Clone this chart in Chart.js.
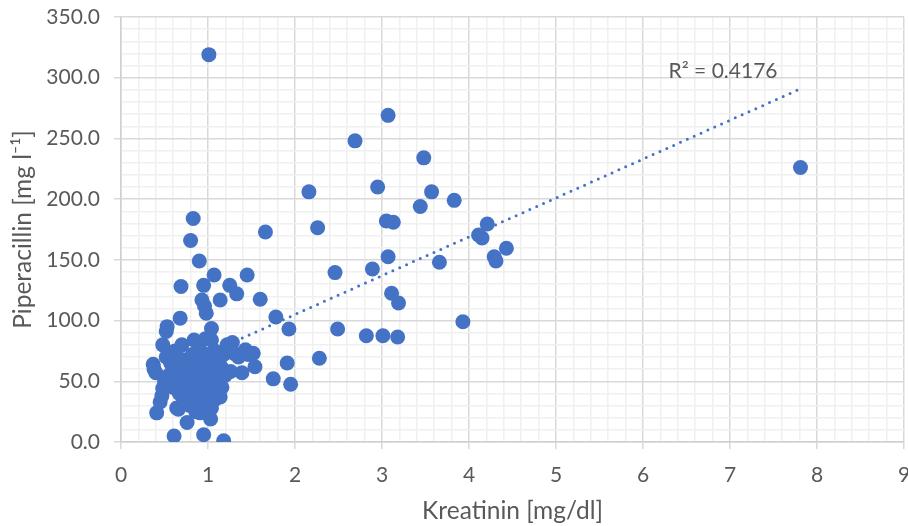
<!DOCTYPE html>
<html>
<head>
<meta charset="utf-8">
<script src="https://cdn.jsdelivr.net/npm/chart.js@4/dist/chart.umd.min.js"></script>
<style>
  html, body { margin: 0; padding: 0; background: #ffffff; }
  #wrap { width: 908px; height: 526px; }
</style>
</head>
<body>
<div id="wrap"><canvas id="chart" width="908" height="526"></canvas></div>
<script>
// Serum creatinine [mg/dl] per sample
const creatinine = [
  1.01, 7.81, 3.07, 2.69, 3.48, 2.95, 3.57, 2.16, 3.83, 3.44,
  0.83, 3.05, 3.13, 0.80, 1.66, 2.26, 0.90, 3.07, 3.66, 1.07,
  1.45, 2.46, 2.89, 4.21, 4.11, 4.15, 4.43, 4.29, 4.31, 1.60,
  3.11, 3.19, 1.78, 1.93, 2.49, 3.93, 2.82, 3.01, 3.18, 1.91,
  1.75, 1.95, 2.28,
  0.69, 0.95, 1.25, 1.33, 0.93, 0.96, 1.14, 0.98, 0.68, 0.52,
  0.53, 1.04,
  0.37, 0.38, 0.40, 0.41, 0.45, 0.47, 0.48, 0.48, 0.50, 0.52,
  0.55, 0.55, 0.57, 0.60, 0.60, 0.61, 0.62, 0.64, 0.65, 0.66,
  0.67, 0.70, 0.70, 0.72, 0.72, 0.75, 0.76, 0.77, 0.78, 0.79,
  0.80, 0.82, 0.83, 0.84, 0.85, 0.85, 0.86, 0.87, 0.88, 0.89,
  0.90, 0.91, 0.92, 0.93, 0.94, 0.95, 0.96, 0.97, 0.97, 0.98,
  1.00, 1.01, 1.03, 1.02, 1.04, 1.04, 1.05, 1.06, 1.08, 1.08,
  1.09, 1.10, 1.12, 1.14, 1.15, 1.16, 1.18, 1.18, 1.20, 1.22,
  1.24, 1.26, 1.28, 1.30, 1.35, 1.39, 1.43, 1.46, 1.52, 1.54
];

// Piperacillin concentration [mg l-1] for the same samples
const piperacillin = [
  319, 226, 269, 248, 234, 210, 206, 206, 199, 194,
  184, 182, 181, 166, 173, 176.5, 149, 152.5, 148, 137.5,
  137.5, 139.5, 142.5, 179.5, 170.5, 168, 159.5, 152.5, 149, 117.5,
  122.5, 114.5, 103, 93, 93, 99, 87.5, 87.5, 86.5, 65,
  52, 47.5, 69,
  128, 129, 129, 122, 117, 112, 117, 106, 102, 91,
  95, 93.5,
  64, 60, 57, 24, 33, 38, 44, 80, 50, 70,
  74, 55, 65, 45, 60, 5, 75, 28, 52, 27,
  40, 68, 80, 35, 58, 48, 16, 62, 43, 30,
  55, 72, 38, 84, 50, 65, 25, 45, 58, 35,
  78, 24, 52, 68, 42, 6, 30, 85, 60, 48,
  72, 40, 19, 55, 84, 28, 65, 47, 75, 35,
  58, 68, 50, 37, 62, 45, 1, 72, 55, 80,
  76, 58, 82, 73, 70, 57, 76, 72, 73, 62
];

// Linear trendline fitted through the samples
const trendSlope = 32.0;
const trendIntercept = 41.0;
const rSquaredLabel = 'R² = 0.4176';

// Axis ranges and tick spacing (major / minor)
const xRange = [0, 9];
const yRange = [0, 350];
const xMajor = 1, xMinor = 0.2;
const yMajor = 50, yMinor = 10;

const points = creatinine.map((x, i) => ({ x, y: piperacillin[i] }));
const xMin = Math.min(...creatinine);
const xMax = Math.max(...creatinine);
const trend = [xMin, xMax].map(x => ({ x, y: trendIntercept + trendSlope * x }));

const isMajor = (v, step) => Math.abs(v / step - Math.round(v / step)) < 1e-6;

const BLUE = '#4472C4';
const TEXT = '#595959';
const FONT = 'Lato, "Open Sans", sans-serif';

// Writes the coefficient of determination next to the trendline
const rLabelPlugin = {
  id: 'rLabel',
  afterDatasetsDraw(chart) {
    const { ctx, scales } = chart;
    const px = scales.x.getPixelForValue(6.92);
    const py = scales.y.getPixelForValue(305.5);
    ctx.save();
    ctx.font = '21px ' + FONT;
    ctx.fillStyle = TEXT;
    ctx.textAlign = 'center';
    ctx.textBaseline = 'middle';
    ctx.fillText(rSquaredLabel, px, py);
    ctx.restore();
  }
};

new Chart(document.getElementById('chart'), {
  type: 'scatter',
  data: {
    datasets: [
      {
        label: 'Piperacillin',
        data: points,
        backgroundColor: BLUE,
        borderWidth: 0,
        pointRadius: 7.5,
        pointHoverRadius: 7.5,
        order: 0
      },
      {
        type: 'line',
        label: 'Trend',
        data: trend,
        borderColor: BLUE,
        borderWidth: 3,
        borderDash: [0, 7.5],
        borderCapStyle: 'round',
        pointRadius: 0,
        fill: false,
        order: 1
      }
    ]
  },
  options: {
    responsive: false,
    animation: false,
    devicePixelRatio: 1,
    layout: { autoPadding: false, padding: { top: 17, right: 4, bottom: 0, left: 0 } },
    plugins: { legend: { display: false }, tooltip: { enabled: false } },
    scales: {
      x: {
        type: 'linear',
        min: xRange[0],
        max: xRange[1],
        afterFit(scale) { scale.height = 84; scale.paddingLeft = 0; scale.paddingRight = 0; },
        ticks: {
          stepSize: xMinor,
          autoSkip: false,
          maxRotation: 0,
          padding: 14,
          color: TEXT,
          font: { family: FONT, size: 21 },
          callback: (v) => isMajor(v, xMajor) ? String(Math.round(v)) : ''
        },
        grid: {
          color: (c) => isMajor(c.tick.value, xMajor) ? '#d9d9d9' : '#f0f0f0',
          lineWidth: 1.5,
          tickColor: (c) => isMajor(c.tick.value, xMajor) ? '#d9d9d9' : 'rgba(0,0,0,0)',
          tickLength: 7
        },
        border: { display: true, color: '#d0d0d0', width: 1.5 },
        title: {
          display: true,
          text: 'Kreatinin [mg/dl]',
          color: TEXT,
          font: { family: FONT, size: 24.5 },
          padding: { top: 0, bottom: 0 }
        }
      },
      y: {
        type: 'linear',
        min: yRange[0],
        max: yRange[1],
        afterFit(scale) { scale.width = 121; scale.paddingTop = 0; scale.paddingBottom = 0; },
        ticks: {
          stepSize: yMinor,
          autoSkip: false,
          padding: 14,
          color: TEXT,
          font: { family: FONT, size: 21 },
          callback: (v) => isMajor(v, yMajor) ? v.toFixed(1) : ''
        },
        grid: {
          color: (c) => isMajor(c.tick.value, yMajor) ? '#d9d9d9' : '#f0f0f0',
          lineWidth: 1.5,
          tickColor: (c) => isMajor(c.tick.value, yMajor) ? '#d9d9d9' : 'rgba(0,0,0,0)',
          tickLength: 7
        },
        border: { display: true, color: '#d0d0d0', width: 1.5 },
        title: {
          display: true,
          text: 'Piperacillin [mg l⁻¹]',
          color: TEXT,
          font: { family: FONT, size: 24.5 },
          padding: { top: 8, bottom: 0 }
        }
      }
    }
  },
  plugins: [rLabelPlugin]
});
</script>
</body>
</html>
